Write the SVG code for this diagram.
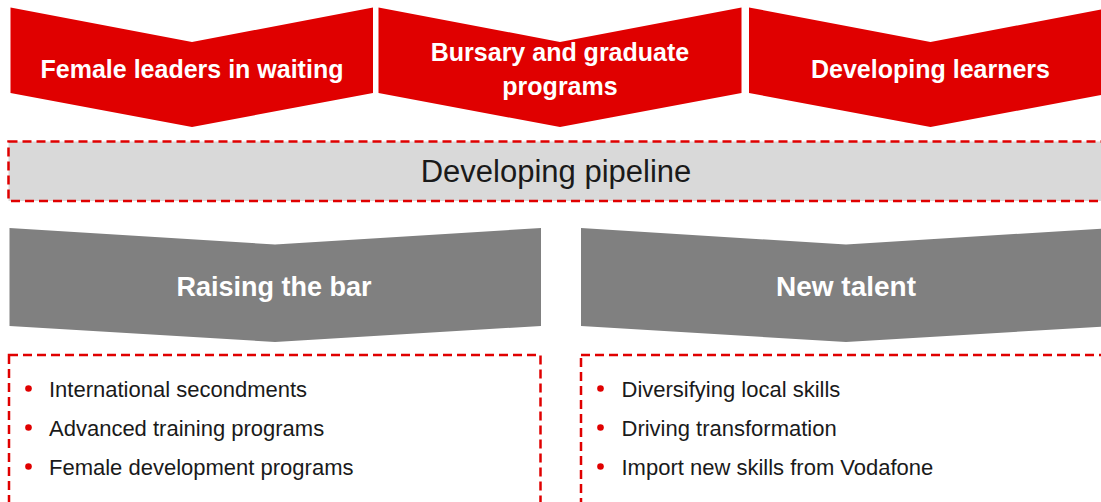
<svg xmlns="http://www.w3.org/2000/svg" width="1101" height="502" viewBox="0 0 1101 502">
<style>
.red{fill:#e00000}
.gray{fill:#808080}
.hdr{font-family:"Liberation Sans",Arial,sans-serif;font-weight:bold;fill:#ffffff;text-anchor:middle}
.dash{fill:none;stroke:#e00000;stroke-width:2.5;stroke-dasharray:9 5}
.item{font-family:"Liberation Sans",Arial,sans-serif;font-size:22px;fill:#1a1a1a}
.dot{fill:#e00000}
</style>
<rect width="1101" height="502" fill="#ffffff"/>
<g id="female-leaders">
<polygon class="red" points="10.5,7.5 192,42 373,7.5 373,93 192,127 10.5,93"/>
<text class="hdr" x="192" y="77.5" font-size="25">Female leaders in waiting</text>
</g>
<g id="bursary">
<polygon class="red" points="378.5,7.5 560,42 741.5,7.5 741.5,93 560,127 378.5,93"/>
<text class="hdr" x="560" y="61" font-size="25">Bursary and graduate</text>
<text class="hdr" x="560" y="94.5" font-size="25">programs</text>
</g>
<g id="developing-learners">
<polygon class="red" points="749,7.5 930.5,42 1112,7.5 1112,93 930.5,127 749,93"/>
<text class="hdr" x="930.5" y="77.5" font-size="25">Developing learners</text>
</g>
<g id="pipeline">
<rect x="8.5" y="141.5" width="1110" height="59.5" fill="#d9d9d9"/>
<rect class="dash" x="8.5" y="141.5" width="1110" height="59.5"/>
<text x="556" y="182" font-family="'Liberation Sans',Arial,sans-serif" font-size="31" fill="#1a1a1a" text-anchor="middle">Developing pipeline</text>
</g>
<g id="raising-the-bar">
<polygon class="gray" points="9.5,228 275,244.5 541,228 541,326 275,342 9.5,326"/>
<text class="hdr" x="274" y="296" font-size="27">Raising the bar</text>
</g>
<g id="new-talent">
<polygon class="gray" points="581,228 846,244.5 1112,228 1112,326 846,342 581,326"/>
<text class="hdr" x="846" y="296" font-size="28">New talent</text>
</g>
<g id="raising-list">
<rect class="dash" x="9" y="355" width="531.5" height="180"/>
<circle class="dot" cx="28.5" cy="388.5" r="3.3"/>
<circle class="dot" cx="28.5" cy="427.5" r="3.3"/>
<circle class="dot" cx="28.5" cy="466.5" r="3.3"/>
<text class="item" x="49" y="397">International secondments</text>
<text class="item" x="49" y="436">Advanced training programs</text>
<text class="item" x="49" y="475">Female development programs</text>
</g>
<g id="talent-list">
<rect class="dash" x="581" y="355" width="540" height="180"/>
<circle class="dot" cx="600.5" cy="388.5" r="3.3"/>
<circle class="dot" cx="600.5" cy="427.5" r="3.3"/>
<circle class="dot" cx="600.5" cy="466.5" r="3.3"/>
<text class="item" x="621.5" y="397">Diversifying local skills</text>
<text class="item" x="621.5" y="436">Driving transformation</text>
<text class="item" x="621.5" y="475">Import new skills from Vodafone</text>
</g>
<g id="connectors"></g>
</svg>
